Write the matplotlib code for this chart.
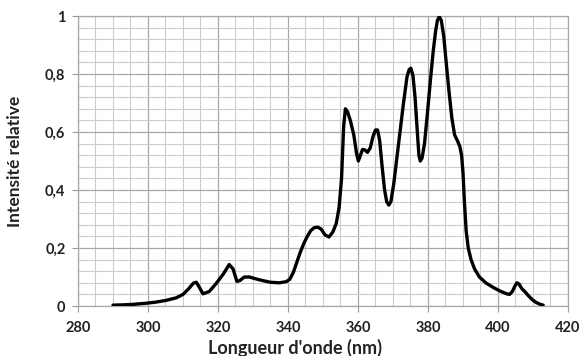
import matplotlib.pyplot as plt
from matplotlib.ticker import MultipleLocator, FixedLocator
import numpy as np

# spectre (longueur d'onde en nm, intensité relative)
wavelength = [290, 293, 296, 299, 302, 305, 308, 310, 311.5, 313.0,
              313.8, 314.8, 315.7, 317.5, 319.5, 321.5, 323.2, 324.3, 325.4, 326.3,
              327.5, 329, 331, 333, 335, 337.5, 339.5, 340.5, 341.5, 342.5, 343.5,
              344.5, 345.5, 346.5, 347.5, 348.5, 349.5, 350.6, 351.7, 352.8, 353.8,
              354.6, 355.3, 355.9, 356.4, 357.0, 357.8, 358.8, 359.6, 360.1, 360.7,
              361.3, 362.0, 362.7, 363.5, 364.3, 365.0, 365.6, 366.2, 366.9, 367.6,
              368.2, 368.8, 369.4, 370.2, 371.0, 372.0, 373.0, 374.0, 374.6, 375.1,
              375.7, 376.3, 376.9, 377.4, 377.8, 378.3, 379.0, 379.8, 380.7, 381.5,
              382.2, 382.7, 383.2, 383.8, 384.5, 385.2, 386.0, 386.8, 387.6, 388.4,
              389.1, 389.6, 390.0, 390.4, 390.9, 391.5, 392.3, 393.3, 394.7, 396.5,
              398.5, 400.5, 402.5, 403.3, 404.1, 404.8, 405.4, 406.0, 406.8, 407.8,
              408.8, 409.8, 410.8, 411.8, 412.9]
intensity = [0.003, 0.004, 0.006, 0.009, 0.013, 0.019, 0.028, 0.040, 0.058, 0.079,
             0.082, 0.062, 0.042, 0.050, 0.078, 0.110, 0.143, 0.128, 0.085, 0.088,
             0.100, 0.100, 0.093, 0.087, 0.082, 0.080, 0.084, 0.092, 0.115, 0.150, 0.185,
             0.215, 0.240, 0.260, 0.270, 0.272, 0.265, 0.245, 0.238, 0.255, 0.285,
             0.340, 0.440, 0.620, 0.680, 0.670, 0.640, 0.590, 0.525, 0.500, 0.520,
             0.540, 0.538, 0.530, 0.545, 0.585, 0.607, 0.607, 0.570, 0.480, 0.400,
             0.360, 0.348, 0.360, 0.420, 0.500, 0.600, 0.700, 0.790, 0.815, 0.820,
             0.795, 0.720, 0.610, 0.520, 0.500, 0.510, 0.560, 0.660, 0.780, 0.880,
             0.950, 0.985, 0.998, 0.985, 0.930, 0.840, 0.740, 0.650, 0.590, 0.570,
             0.550, 0.520, 0.460, 0.360, 0.260, 0.200, 0.160, 0.128, 0.100, 0.080,
             0.065, 0.052, 0.042, 0.040, 0.050, 0.068, 0.080, 0.076, 0.060, 0.048,
             0.034, 0.022, 0.013, 0.007, 0.003]

x_ticks = [280, 300, 320, 340, 360, 380, 400, 420]
y_ticks = [0, 0.2, 0.4, 0.6, 0.8, 1.0]
y_tick_labels = ['0', '0,2', '0,4', '0,6', '0,8', '1']

plt.rcParams['font.family'] = ['Lato', 'DejaVu Sans']

fig = plt.figure(figsize=(5.79, 3.56), dpi=100)
ax = fig.add_axes([0.1347, 0.1404, 0.8463, 0.8146])

ax.plot(wavelength, intensity, color='black', lw=2.4, solid_joinstyle='round',
        solid_capstyle='round', zorder=3)

ax.set_xlim(280, 420)
ax.set_ylim(0, 1)
ax.xaxis.set_major_locator(FixedLocator(x_ticks))
ax.yaxis.set_major_locator(FixedLocator(y_ticks))
ax.xaxis.set_minor_locator(MultipleLocator(5))
ax.yaxis.set_minor_locator(MultipleLocator(0.04))
ax.set_yticklabels(y_tick_labels)

ax.grid(which='major', color='#a8a8a8', lw=0.9)
ax.grid(which='minor', color='#cccccc', lw=0.8)
ax.tick_params(which='major', length=4, color='#999999', labelsize=10.5)
ax.tick_params(axis='x', which='major', pad=7)
ax.tick_params(axis='y', which='major', pad=5)
ax.tick_params(which='minor', length=0)
for lab in ax.get_xticklabels() + ax.get_yticklabels():
    lab.set_fontweight('bold')
    lab.set_color('#222222')
for s in ax.spines.values():
    s.set_color('#a8a8a8')
    s.set_linewidth(0.9)

ax.set_xlabel("Longueur d'onde (nm)", fontsize=13, fontweight='bold', color='#222222')
ax.xaxis.set_label_coords(0.443, -0.112)
ax.set_ylabel("Intensité relative", fontsize=12.5, fontweight='bold', color='#222222')
ax.yaxis.set_label_coords(-0.112, 0.5)

fig.savefig('out.png', dpi=100)
